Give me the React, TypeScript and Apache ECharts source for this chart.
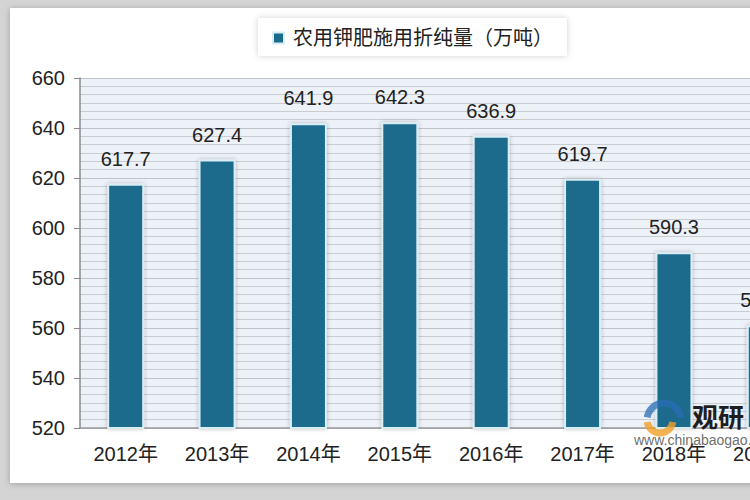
import React, { useEffect, useRef } from "react";
import * as echarts from "echarts";

const categories = ["2012年", "2013年", "2014年", "2015年", "2016年", "2017年", "2018年", "2019年"];
const values = [617.7, 627.4, 641.9, 642.3, 636.9, 619.7, 590.3, 561.1];
const seriesName = "农用钾肥施用折纯量（万吨）";
const yMin = 520;
const yMax = 660;
const yStep = 20;

const FONT = "'Liberation Sans', Arial, 'Noto Sans CJK SC', sans-serif";

export default function App() {
  const ref = useRef<HTMLDivElement>(null);
  useEffect(() => {
    document.body.style.margin = "0";
    const chart = echarts.init(ref.current!, null, { renderer: "svg" });
    chart.setOption({
      animation: false,
      backgroundColor: "#d4d4d4",
      graphic: [
        {
          type: "rect",
          z: -10,
          shape: { x: 10, y: 8, width: 845, height: 475 },
          style: { fill: "#ffffff", shadowBlur: 6, shadowColor: "rgba(0,0,0,0.25)", shadowOffsetX: 0, shadowOffsetY: 1 },
        },
        {
          type: "arc",
          z: 99,
          shape: { cx: 664, cy: 420, r: 17, startAngle: Math.PI * 1.05, endAngle: Math.PI * 1.95 },
          style: { stroke: "rgba(40,110,180,0.75)", lineWidth: 7, fill: "none" },
        },
        {
          type: "arc",
          z: 99,
          shape: { cx: 660, cy: 420, r: 13, startAngle: Math.PI * 0.05, endAngle: Math.PI * 0.95 },
          style: { stroke: "rgba(240,160,40,0.8)", lineWidth: 7, fill: "none" },
        },
        {
          type: "text",
          z: 100,
          left: 692,
          top: 402,
          style: { text: "观研", fontSize: 26, fontWeight: "bold", fill: "#1e1e1e", fontFamily: "'Noto Sans CJK SC', sans-serif" },
        },
        {
          type: "text",
          z: 100,
          left: 634,
          top: 433,
          style: { text: "www.chinabaogao.com", fontSize: 14, fill: "rgba(70,70,70,0.8)", fontFamily: FONT },
        },
      ],
      legend: {
        show: true,
        left: 258,
        top: 18,
        padding: [10, 14, 8, 14],
        itemWidth: 11,
        itemHeight: 11,
        backgroundColor: "#ffffff",
        shadowBlur: 6,
        shadowColor: "rgba(0,0,0,0.18)",
        textStyle: { fontSize: 20, color: "#222", fontFamily: FONT, padding: [0, 0, 0, 4] },
        data: [{ name: seriesName, icon: "rect" }],
      },
      grid: {
        left: 80,
        top: 78,
        width: 731,
        height: 350,
        show: true,
        backgroundColor: "#edf1f8",
        borderWidth: 0,
      },
      xAxis: {
        type: "category",
        data: categories,
        axisLine: { lineStyle: { color: "#9a9a9a", width: 1.5 } },
        axisTick: { show: false },
        axisLabel: { fontSize: 20, color: "#222", margin: 16, fontFamily: FONT },
      },
      yAxis: {
        type: "value",
        min: yMin,
        max: yMax,
        interval: yStep,
        axisLine: { show: true, lineStyle: { color: "#8a8a8a", width: 1.5 } },
        axisTick: { show: true, length: 6, lineStyle: { color: "#8a8a8a" } },
        axisLabel: { fontSize: 20, color: "#222", margin: 15, fontFamily: FONT },
        splitLine: { show: true, lineStyle: { color: "#bfc2c8", width: 1.2 } },
        minorTick: { show: false, splitNumber: 6 },
        minorSplitLine: { show: true, lineStyle: { color: "#c9ccd1", width: 1.2 } },
      },
      series: [
        {
          name: seriesName,
          type: "bar",
          data: values,
          barWidth: 37,
          itemStyle: {
            color: "#1a6a8c",
            borderColor: "#d9edf5",
            borderWidth: 2,
            shadowBlur: 4,
            shadowColor: "rgba(0,0,0,0.25)",
          },
          label: {
            show: true,
            position: "top",
            distance: 15,
            fontSize: 20,
            color: "#222",
            fontFamily: FONT,
          },
        },
      ],
    });
    return () => chart.dispose();
  }, []);
  return (
    <div style={{ position: "fixed", left: 0, top: 0, width: 750, height: 500, overflow: "hidden", background: "#d4d4d4" }}>
      <div ref={ref} style={{ position: "absolute", left: 0, top: 0, width: 860, height: 500 }} />
    </div>
  );
}
